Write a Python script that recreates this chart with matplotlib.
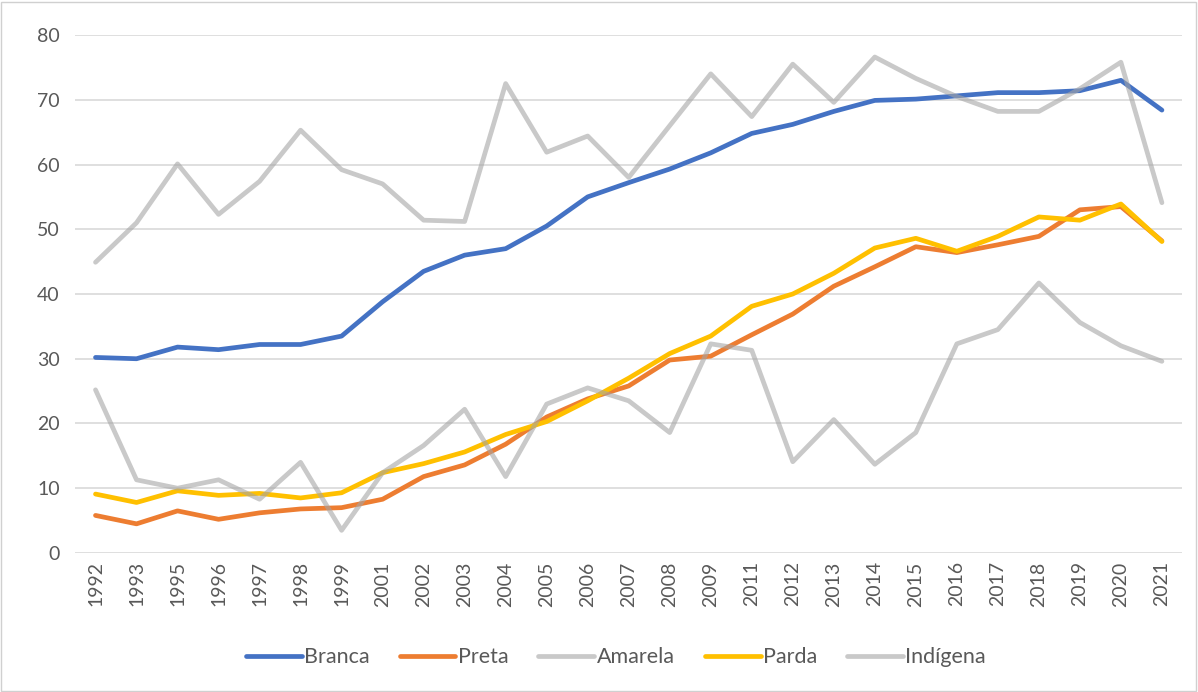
import matplotlib
matplotlib.use("Agg")
import matplotlib.pyplot as plt
from matplotlib.patches import Rectangle

years = ["1992", "1993", "1995", "1996", "1997", "1998", "1999", "2001", "2002", "2003",
         "2004", "2005", "2006", "2007", "2008", "2009", "2011", "2012", "2013", "2014",
         "2015", "2016", "2017", "2018", "2019", "2020", "2021"]

branca = [30.2, 30.0, 31.8, 31.4, 32.2, 32.2, 33.5, 38.8, 43.5, 46.0, 47.0, 50.5, 55.0, 57.2,
          59.3, 61.8, 64.8, 66.2, 68.2, 69.9, 70.1, 70.6, 71.1, 71.1, 71.4, 73.0, 68.4]
preta = [5.8, 4.5, 6.5, 5.2, 6.2, 6.8, 7.0, 8.3, 11.8, 13.6, 16.8, 21.0, 23.8, 25.8,
         29.8, 30.4, 33.7, 36.9, 41.2, 44.2, 47.3, 46.4, 47.6, 48.9, 53.0, 53.5, 48.2]
amarela = [44.9, 51.0, 60.1, 52.3, 57.4, 65.3, 59.2, 57.0, 51.4, 51.2, 72.5, 61.9, 64.4, 58.0,
           66.0, 74.0, 67.4, 75.5, 69.6, 76.6, 73.3, 70.5, 68.2, 68.2, 71.7, 75.8, 54.1]
parda = [9.1, 7.8, 9.6, 8.9, 9.2, 8.5, 9.3, 12.4, 13.8, 15.6, 18.3, 20.3, 23.5, 27.0,
         30.8, 33.5, 38.1, 40.0, 43.2, 47.1, 48.6, 46.6, 48.9, 51.9, 51.4, 53.9, 48.1]
indigena = [25.2, 11.3, 10.0, 11.3, 8.3, 14.0, 3.5, 12.4, 16.6, 22.2, 11.8, 23.0, 25.5, 23.5,
            18.6, 32.3, 31.3, 14.1, 20.6, 13.7, 18.6, 32.3, 34.5, 41.7, 35.6, 32.0, 29.6]

series = [("Branca", branca, "#4472C4", 1.0),
          ("Preta", preta, "#ED7D31", 1.0),
          ("Amarela", amarela, "#A5A5A5", 0.6),
          ("Parda", parda, "#FFC000", 1.0),
          ("Indígena", indigena, "#A5A5A5", 0.6)]

plt.rcParams['font.family'] = ['Lato', 'DejaVu Sans']

fig = plt.figure(figsize=(11.98, 6.92), dpi=100)
ax = fig.add_axes([0.0626, 0.2009, 0.9244, 0.7485])

x = list(range(len(years)))
for name, vals, col, a in series:
    ax.plot(x, vals, color=col, alpha=a, lw=3.4, label=name, solid_capstyle='round',
            solid_joinstyle='round')

ax.set_xlim(-0.5, len(years) - 0.5)
ax.set_ylim(0, 80)
ax.set_yticks(range(0, 81, 10))
ax.set_xticks(x)
ax.set_xticklabels(years, rotation=90)
ax.grid(axis='y', color='#D9D9D9', lw=1.2)
ax.set_axisbelow(True)
for s in ax.spines.values():
    s.set_visible(False)
ax.tick_params(axis='both', length=0, colors='#595959', labelsize=14)
ax.tick_params(axis='y', pad=11)
ax.tick_params(axis='x', pad=6)

leg = fig.legend(loc='center', bbox_to_anchor=(0.514, 0.05), ncol=5, frameon=False,
                 fontsize=15.5, handlelength=2.6, handletextpad=0.1, columnspacing=1.4)
for t in leg.get_texts():
    t.set_color('#595959')

fig.patches.append(Rectangle((0.001, 0.002), 0.997, 0.995, transform=fig.transFigure,
                             fill=False, edgecolor='#D0D0D0', lw=1.0))

fig.savefig("out.png", dpi=100)
